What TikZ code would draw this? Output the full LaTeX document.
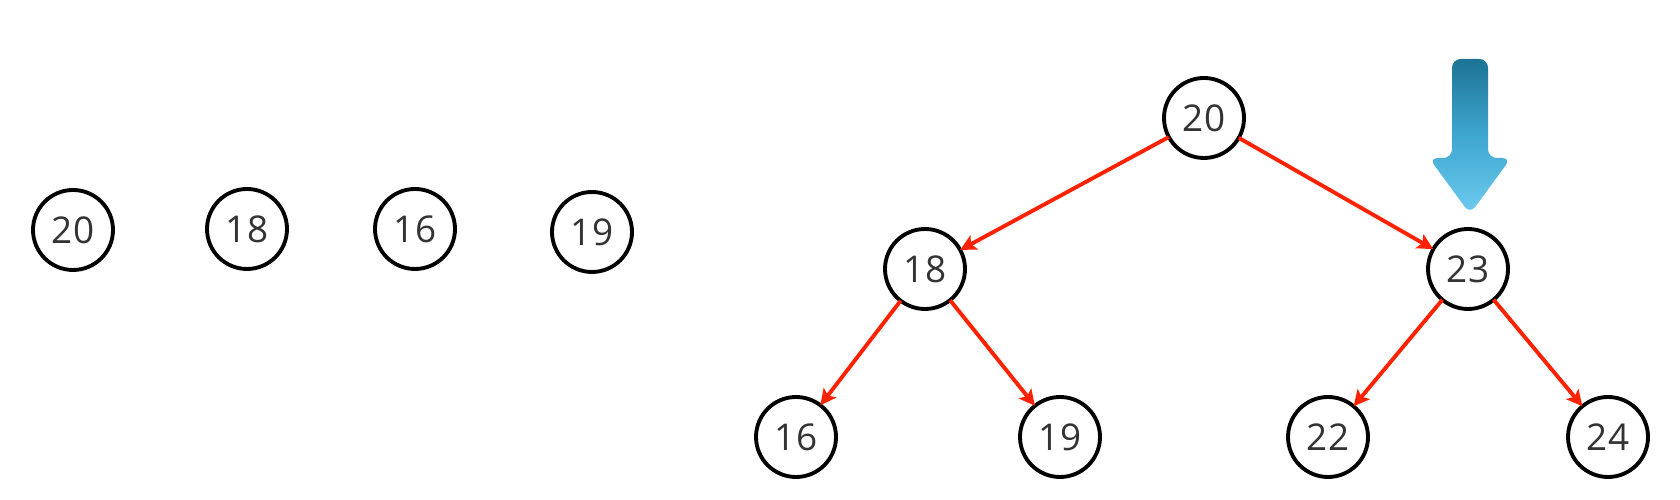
\documentclass[tikz,border=0pt]{standalone}
\usepackage[usenames,dvipsnames]{xcolor}
\usepackage{fontspec}
\setmainfont{Open Sans}
\usepackage{tkz-graph}
\usetikzlibrary{arrows.meta}

\definecolor{numgray}{HTML}{333333}
\definecolor{edgered}{HTML}{FF2200}
\definecolor{arrowtop}{HTML}{1C7395}
\definecolor{arrowmid}{HTML}{3FA8D0}
\definecolor{arrowlow}{HTML}{6DCAEE}

\begin{document}
\begin{tikzpicture}
  \useasboundingbox (0,0) rectangle (16.8,5);
  \SetVertexNormal[Shape     = circle,
                   FillColor = white,
                   LineWidth = 1.1pt]
  \tikzset{VertexStyle/.append style={minimum size=0.8cm,
                                      inner sep=0pt,
                                      text=numgray,
                                      font=\fontsize{10.5}{12}\selectfont}}

% row of keys
\Vertex[x=0.73, y=2.70, L=20]{k20}
\Vertex[x=2.47, y=2.71, L=18]{k18}
\Vertex[x=4.15, y=2.71, L=16]{k16}
\Vertex[x=5.92, y=2.68, L=19]{k19}

% level 0
\Vertex[x=12.04, y=3.82, L=20]{t20}

% level 1
\Vertex[x=9.25,  y=2.31, L=18]{t18}
\Vertex[x=14.68, y=2.31, L=23]{t23}

% level 2
\Vertex[x=7.96,  y=0.63, L=16]{t16}
\Vertex[x=10.60, y=0.63, L=19]{t19}
\Vertex[x=13.28, y=0.63, L=22]{t22}
\Vertex[x=16.08, y=0.63, L=24]{t24}

\tikzset{EdgeStyle/.style={-{Stealth[length=4.5pt,width=4.5pt,inset=1pt]},
                           line width=1.1pt, color=edgered}}

\Edges(t20, t18)
\Edges(t20, t23)
\Edges(t18, t16)
\Edges(t18, t19)
\Edges(t23, t22)
\Edges(t23, t24)

% insertion marker
\shade[top color=arrowtop, bottom color=arrowlow, middle color=arrowmid,
       rounded corners=2.5pt]
  (14.52,4.41) -- (14.88,4.41) -- (14.88,3.42) -- (15.11,3.42)
  -- (14.70,2.86) -- (14.29,3.42) -- (14.52,3.42) -- cycle;

\end{tikzpicture}
\end{document}
